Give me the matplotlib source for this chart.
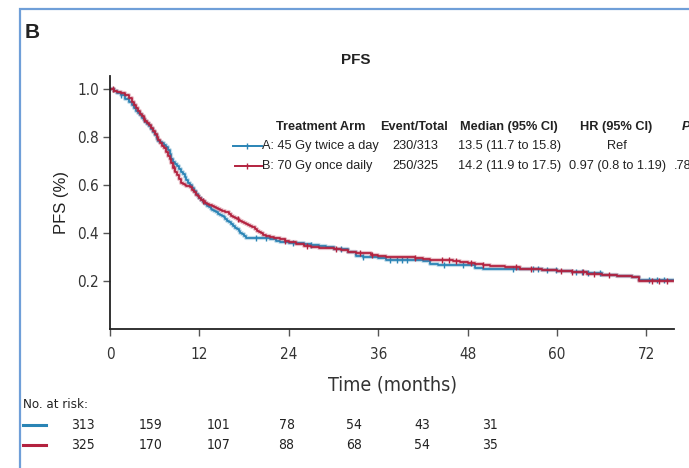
import numpy as np
import matplotlib
matplotlib.use('Agg')
from matplotlib import pyplot as plt
from matplotlib import font_manager
from matplotlib.font_manager import FontProperties
from matplotlib.lines import Line2D
from matplotlib.patches import Rectangle

# narrow face for the axis numbers, regular face for the table
names = {f.name for f in font_manager.fontManager.ttflist}
if 'Liberation Sans Narrow' in names:
    narrow = FontProperties(family='Liberation Sans Narrow')
else:
    narrow = FontProperties(family='DejaVu Sans', stretch='condensed')
plain = 'Liberation Sans' if 'Liberation Sans' in names else 'DejaVu Sans'

blue = '#2a84b5'
red = '#b3223f'
ink = '#222222'

# Kaplan-Meier estimates, arm A (45 Gy twice a day)
t_a = [0, 0.5, 1, 1.5, 2, 2.5,
       3, 3.25, 3.5, 3.75, 4, 4.25, 4.5, 4.75, 5, 5.25, 5.5, 5.75, 6, 6.25, 6.5, 6.75,
       7, 7.25, 7.5, 7.75, 8, 8.25, 8.5, 8.75, 9, 9.25, 9.5, 9.75, 10, 10.25, 10.5, 10.75,
       11, 11.25, 11.5, 11.75, 12, 12.25, 12.5, 12.75, 13, 13.25, 13.5, 13.75, 14, 14.25,
       14.5, 14.75, 15, 15.25, 15.5, 15.75, 16, 16.25, 16.5, 16.75, 17, 17.25, 17.5,
       17.75, 18, 18.25, 18.5,
       21.5, 22.3, 22.8, 24, 25, 26, 27, 28, 29, 30, 32, 33, 34, 36, 37, 38, 42, 43, 44,
       48, 49, 50, 56, 58, 60, 62, 64, 66, 68, 70, 71, 75.5]
s_a = [1.0, 0.992, 0.982, 0.973, 0.96, 0.945,
       0.932, 0.922, 0.91, 0.9, 0.89, 0.88, 0.872, 0.864, 0.855, 0.845, 0.835, 0.822,
       0.808, 0.793, 0.785, 0.78, 0.775, 0.768, 0.76, 0.745, 0.728, 0.71, 0.697, 0.688,
       0.678, 0.668, 0.655, 0.645, 0.633, 0.622, 0.61, 0.598, 0.587, 0.575, 0.562, 0.553,
       0.545, 0.537, 0.53, 0.522, 0.514, 0.507, 0.5, 0.495, 0.49, 0.486, 0.481, 0.476,
       0.471, 0.466, 0.459, 0.452, 0.445, 0.437, 0.43, 0.422, 0.415, 0.408, 0.401, 0.395,
       0.388, 0.38, 0.378,
       0.374, 0.368, 0.364, 0.36, 0.357, 0.353, 0.35, 0.345, 0.34, 0.335, 0.32, 0.305,
       0.3, 0.296, 0.288, 0.287, 0.285, 0.27, 0.267, 0.265, 0.255, 0.252, 0.248, 0.245,
       0.24, 0.236, 0.232, 0.226, 0.222, 0.218, 0.206, 0.206]
cens_a = [1.5, 3.2, 19.6, 21.0, 24.5, 27, 31, 34, 37.6, 38.5, 39.2, 39.9, 44.8, 47.4,
          54.1, 56.8, 57.5, 58.6, 59.9, 62.6, 63.4, 64.2, 65.8, 72.4, 73.4, 74.4]

# Kaplan-Meier estimates, arm B (70 Gy once daily)
t_b = [0, 0.5, 1, 1.5, 2, 2.5,
       3, 3.25, 3.5, 3.75, 4, 4.25, 4.5, 4.75, 5, 5.25, 5.5, 5.75, 6, 6.25, 6.5, 6.75,
       7, 7.25, 7.5, 7.75, 8, 8.25, 8.5, 8.75, 9, 9.25, 9.5, 9.75, 10, 10.25, 10.5, 10.75,
       11, 11.25, 11.5, 11.75, 12, 12.25, 12.5, 12.75, 13, 13.25, 13.5, 13.75, 14, 14.25,
       14.5, 14.75, 15, 15.25, 15.5, 15.75, 16, 16.25, 16.5, 16.75, 17, 17.25, 17.5,
       17.75, 18, 18.25, 18.5, 18.75, 19, 19.25, 19.5, 19.75, 20, 20.25, 20.5,
       21, 21.5, 22, 22.8, 23.5, 24, 25, 26, 27, 28, 29, 30, 31, 32, 33, 34, 35, 36, 37,
       38, 40, 41, 42, 43, 44, 46, 47, 48, 49, 50, 51, 53, 55, 56, 58, 60, 62, 64, 66,
       68, 70, 71, 75.5]
s_b = [1.0, 0.993, 0.987, 0.982, 0.975, 0.962,
       0.945, 0.933, 0.92, 0.908, 0.897, 0.886, 0.876, 0.866, 0.857, 0.848, 0.838, 0.826,
       0.812, 0.798, 0.787, 0.776, 0.764, 0.752, 0.738, 0.722, 0.707, 0.69, 0.672, 0.655,
       0.64, 0.625, 0.61, 0.604, 0.6, 0.597, 0.594, 0.59, 0.58, 0.57, 0.56, 0.552, 0.545,
       0.538, 0.533, 0.527, 0.522, 0.518, 0.515, 0.511, 0.507, 0.503, 0.498, 0.494, 0.492,
       0.49, 0.488, 0.486, 0.478, 0.472, 0.466, 0.461, 0.457, 0.455, 0.452, 0.446, 0.44,
       0.436, 0.433, 0.43, 0.427, 0.424, 0.418, 0.41, 0.404, 0.398, 0.393,
       0.388, 0.384, 0.38, 0.375, 0.368, 0.364, 0.355, 0.345, 0.342, 0.338, 0.336, 0.334,
       0.33, 0.322, 0.318, 0.315, 0.31, 0.305, 0.302, 0.301, 0.298, 0.295, 0.29, 0.288,
       0.287, 0.285, 0.28, 0.276, 0.27, 0.265, 0.262, 0.258, 0.252, 0.25, 0.246, 0.24,
       0.236, 0.231, 0.226, 0.222, 0.218, 0.202, 0.202]
cens_b = [0.4, 4.6, 8.6, 12.5, 17.2, 23.5, 26.5, 30.4, 33.5, 35.1, 41, 44.5, 45.5, 46.5,
          48.5, 50, 54.5, 56.5, 60.5, 62, 63.5, 65, 67, 72.7, 73.7, 74.7]

ticks_x = [0, 12, 24, 36, 48, 60, 72]
ticks_y = [0.2, 0.4, 0.6, 0.8, 1.0]

risk_a = [313, 159, 101, 78, 54, 43, 31]
risk_b = [325, 170, 107, 88, 68, 54, 35]

table_head = ['Treatment Arm', 'Event/Total', 'Median (95% CI)', 'HR (95% CI)']
row_a = ['A: 45 Gy twice a day', '230/313', '13.5 (11.7 to 15.8)', 'Ref']
row_b = ['B: 70 Gy once daily', '250/325', '14.2 (11.9 to 17.5)', '0.97 (0.8 to 1.19)', '.78']


def step_at(t, s, x):
    # value of a right-continuous step curve at time x
    idx = np.searchsorted(t, x, side='right') - 1
    return np.asarray(s)[idx]


W, H = 689, 468
fig = plt.figure(figsize=(W / 100, H / 100), dpi=100)

def fx(px):
    return px / W

def fy(py):
    return 1 - py / H

# panel frame and letter
fig.add_artist(Rectangle((fx(20), fy(470)), 1.0, fy(9) - fy(470), transform=fig.transFigure,
                         fill=False, edgecolor='#6f9fd8', linewidth=1.6))
fig.text(fx(25), fy(33), 'B', fontsize=15, fontweight='bold', family=plain, va='center',
         color=ink)
fig.text(fx(356), fy(60), 'PFS', fontsize=11, fontweight='bold', family=plain,
         ha='center', va='center', color=ink)

ax = fig.add_axes([fx(110), fy(329), fx(674) - fx(110), fy(76) - fy(329)])
for t, s, c, cens in [(t_a, s_a, blue, cens_a), (t_b, s_b, red, cens_b)]:
    ax.step(t, s, where='post', color=c, linewidth=3.0, alpha=0.28)
    ax.step(t, s, where='post', color=c, linewidth=1.3)
    ax.plot(cens, step_at(t, s, cens), linestyle='none', marker='|', markersize=5,
            markeredgewidth=1.0, color=c)

ax.set_xlim(0, 75.7)
ax.set_ylim(0, 1.054)
ax.set_xticks(ticks_x)
ax.set_yticks(ticks_y)
ax.set_yticklabels(['%.1f' % v for v in ticks_y])
for side in ['top', 'right']:
    ax.spines[side].set_visible(False)
for side in ['left', 'bottom']:
    ax.spines[side].set_linewidth(1.3)
    ax.spines[side].set_color(ink)
ax.tick_params(axis='both', direction='out', length=5, width=1, color='#555555',
               labelsize=11, labelcolor='#333333')
ax.tick_params(axis='x', pad=8)
ax.tick_params(axis='y', pad=3)
for lab in ax.get_xticklabels() + ax.get_yticklabels():
    lab.set_fontproperties(narrow)
    lab.set_fontsize(11)
ax.set_xlabel('Time (months)', fontproperties=narrow, fontsize=14, color='#333333',
              labelpad=10)
ax.set_ylabel('PFS (%)', fontsize=12, family=plain, color=ink, labelpad=6)

# summary table beside the curves
fs = 9.2
head_x = [321, 414, 509, 616]
for txt, x in zip(table_head, head_x):
    fig.text(fx(x), fy(127), txt, fontsize=fs, fontweight='bold', family=plain,
             ha='center', va='center', color=ink)
fig.text(fx(682), fy(127), 'P', fontsize=fs, fontweight='bold', style='italic',
         family=plain, va='center', color=ink)

for rows, y, c, x0 in [(row_a, 146, blue, 233), (row_b, 166, red, 235)]:
    fig.add_artist(Line2D([fx(x0), fx(262)], [fy(y), fy(y)], transform=fig.transFigure,
                          color=c, linewidth=1.4))
    fig.add_artist(Line2D([fx(247)], [fy(y)], transform=fig.transFigure, color=c,
                          marker='|', markersize=5, markeredgewidth=1.0))
    fig.text(fx(262), fy(y), rows[0], fontsize=fs, family=plain, va='center', color=ink)
    fig.text(fx(392), fy(y), rows[1], fontsize=fs, family=plain, va='center', color=ink)
    fig.text(fx(458), fy(y), rows[2], fontsize=fs, family=plain, va='center', color=ink)
fig.text(fx(617), fy(146), row_a[3], fontsize=fs, family=plain, ha='center', va='center',
         color=ink)
fig.text(fx(569), fy(166), row_b[3], fontsize=fs, family=plain, va='center', color=ink)
fig.text(fx(674), fy(166), row_b[4], fontsize=fs, family=plain, va='center', color=ink)

# number at risk
fig.text(fx(23), fy(405), 'No. at risk:', fontproperties=narrow, fontsize=9.5,
         va='center', color=ink)
axr = fig.add_axes([fx(49), fy(455), fx(524) - fx(49), fy(415) - fy(455)])
axr.set_xlim(-0.5, len(risk_a) - 0.5)
axr.set_ylim(1.5, -0.5)
axr.axis('off')
for row, (vals, c) in enumerate([(risk_a, blue), (risk_b, red)]):
    for i, v in enumerate(vals):
        axr.text(i, row, str(v), ha='center', va='center', fontproperties=narrow,
                 fontsize=10, color=ink)
    fig.add_artist(Line2D([fx(23), fx(46)], [fy(425 + 20 * row)] * 2,
                          transform=fig.transFigure, color=c, linewidth=2.2))

fig.savefig('out.png', dpi=100)
